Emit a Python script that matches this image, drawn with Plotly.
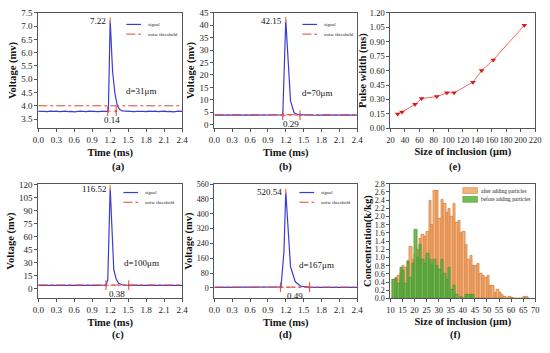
import plotly.graph_objects as go

# ---------------- data ----------------
# (a) d = 31 um
time_a = [0.00,0.05,0.10,0.15,0.20,0.25,0.30,0.35,0.40,0.45,0.50,0.55,0.60,0.65,0.70,0.75,0.80,0.85,0.90,0.95,1.00,1.05,1.10,
          1.15,1.17,1.20,1.24,1.28,1.32,1.36,1.40,
          1.45,1.50,1.55,1.60,1.65,1.70,1.75,1.80,1.85,1.90,1.95,2.00,2.05,2.10,2.15,2.20,2.25,2.30,2.35,2.40]
volt_a = [3.79,3.80,3.79,3.78,3.80,3.79,3.80,3.78,3.79,3.80,3.78,3.79,3.77,3.79,3.80,3.79,3.78,3.80,3.79,3.80,3.78,3.79,3.80,
          3.79,3.85,7.22,5.30,4.45,4.00,3.86,3.81,
          3.80,3.79,3.80,3.78,3.79,3.80,3.79,3.78,3.80,3.79,3.80,3.78,3.79,3.80,3.78,3.79,3.77,3.79,3.80,3.79]
# (b) d = 70 um
time_b = [0.00,0.10,0.20,0.30,0.40,0.50,0.60,0.70,0.80,0.90,1.00,1.10,1.15,1.20,1.28,1.34,1.40,1.45,
          1.50,1.60,1.70,1.80,1.90,2.00,2.10,2.20,2.30,2.40]
volt_b = [3.80,3.82,3.78,3.81,3.79,3.80,3.78,3.81,3.80,3.79,3.81,3.80,3.90,42.15,9.60,4.80,4.10,3.90,
          3.82,3.80,3.79,3.81,3.80,3.78,3.80,3.81,3.79,3.80]
# (c) d = 100 um
time_c = [0.00,0.10,0.20,0.30,0.40,0.50,0.60,0.70,0.80,0.90,1.00,1.10,1.13,1.16,1.20,1.26,1.30,1.34,1.40,1.45,
          1.50,1.60,1.70,1.80,1.90,2.00,2.10,2.20,2.30,2.40]
volt_c = [3.60,3.70,3.60,3.65,3.70,3.60,3.65,3.70,3.60,3.65,3.70,3.65,3.80,10.0,116.52,22.0,11.0,6.00,4.30,3.90,
          3.70,3.65,3.70,3.60,3.65,3.70,3.60,3.65,3.70,3.65]
# (d) d = 167 um
time_d = [0.00,0.10,0.20,0.30,0.40,0.50,0.60,0.70,0.80,0.90,1.00,1.10,1.12,1.17,1.20,1.28,1.36,1.45,1.55,
          1.60,1.70,1.80,1.90,2.00,2.10,2.20,2.30,2.40]
volt_d = [3.0,3.2,3.1,3.0,3.2,3.1,3.0,3.2,3.1,3.0,3.2,3.1,5.0,198.0,520.54,115.0,33.0,9.0,4.0,
          3.5,3.2,3.1,3.0,3.2,3.1,3.0,3.2,3.1]

peak_time = [1.20, 1.20, 1.20, 1.20]
peak_value = [7.22, 42.15, 116.52, 520.54]
peak_labels = ["7.22", "42.15", "116.52", "520.54"]
noise_threshold = [4.0, 4.0, 4.0, 4.0]
width_start = [1.16, 1.15, 1.13, 1.11]
width_end = [1.30, 1.44, 1.51, 1.60]
width_level = [3.80, 3.80, 3.80, 3.80]
width_labels = ["0.14", "0.29", "0.38", "0.49"]
diameter_labels = ["d=31μm", "d=70μm", "d=100μm", "d=167μm"]
diameter_text_y = [4.57, 12.6, 29.0, 124.0]
signal_legend = ["signal", "noise threshold"]

# (e) pulse width vs inclusion size
inclusion_size = [30, 36, 54, 63, 84, 98, 108, 134, 146, 162, 205]
pulse_width = [0.15, 0.17, 0.25, 0.31, 0.33, 0.37, 0.37, 0.48, 0.60, 0.71, 1.07]

# (f) size distribution (bin left edges, 1 um bins)
size_bins = [11,12,13,14,15,16,17,18,19,20,21,22,23,24,25,26,27,28,29,30,31,32,33,34,35,36,37,38,
             39,40,41,42,43,44,45,46,47,48,49,50,51,52,53,54,55,56,57,58,59,60,61,62,63,64,65,66]
conc_after = [0.45,0.50,0.55,0.62,0.80,0.75,0.92,1.25,0.95,1.10,1.20,1.45,1.55,1.50,1.62,2.38,1.80,2.62,
              2.62,1.95,2.40,2.30,2.10,2.20,2.00,2.30,1.85,1.90,1.60,1.62,1.30,0.95,1.05,0.80,0.80,0.85,
              0.60,0.55,0.50,0.55,0.30,0.30,0.15,0.20,0.15,0.10,0.05,0.00,0.05,0.02,0.00,0.00,0.00,0.00,
              0.05,0.03]
conc_before = [0.45,0.48,0.35,0.75,0.68,0.35,0.90,0.50,0.85,1.67,1.00,1.30,0.95,0.85,1.10,0.95,0.80,0.95,
               0.80,0.70,0.95,0.60,0.45,0.75,0.20,0.30,0.10,0.00,0.05,0.00,0.10,0.10,0.08,0.10,0.00,0.00,
               0.00,0.00,0.00,0.00,0.00,0.00,0.00,0.00,0.00,0.00,0.00,0.00,0.00,0.00,0.00,0.00,0.00,0.00,
               0.00,0.00]
dist_legend = ["after adding particles", "before adding particles"]

# ---------------- styling ----------------
W, H = 550, 353
SERIF = "Liberation Serif"
BLUE = "#3b3bd6"
RED = "#e0443c"
ORANGE_FILL, ORANGE_LINE = "#f4b27c", "#d5823e"
GREEN_FILL, GREEN_LINE = "rgba(104,184,72,0.92)", "#4a9236"
col_dom = [[33/W, 180/W], [213/W, 359/W], [393/W, 541/W]]
row_dom = [[1-127/H, 1-8/H], [1-302/H, 1-184/H]]

fig = go.Figure()

signal_sets = [(time_a, volt_a), (time_b, volt_b), (time_c, volt_c), (time_d, volt_d)]
axes_ids = [("x", "y"), ("x2", "y2"), ("x4", "y4"), ("x5", "y5")]

for i, ((t, v), (xa, ya)) in enumerate(zip(signal_sets, axes_ids)):
    fig.add_trace(go.Scatter(x=t, y=v, mode="lines", name=signal_legend[0], showlegend=False,
                             line=dict(color=BLUE, width=1.2), xaxis=xa, yaxis=ya))
    fig.add_trace(go.Scatter(x=[t[0], t[-1]], y=[noise_threshold[i]]*2, mode="lines",
                             name=signal_legend[1], showlegend=False,
                             line=dict(color=RED, width=1, dash="dashdot"), xaxis=xa, yaxis=ya))
    # pulse width double arrow
    fig.add_trace(go.Scatter(x=[width_start[i], width_end[i]], y=[width_level[i]]*2,
                             mode="lines+markers", showlegend=False,
                             line=dict(color=RED, width=0.8, dash="dot"),
                             marker=dict(symbol=["triangle-left", "triangle-right"], size=3, color=RED),
                             xaxis=xa, yaxis=ya, hoverinfo="skip"))
    fig.add_trace(go.Scatter(x=[width_start[i], width_end[i]], y=[width_level[i]]*2,
                             mode="markers", showlegend=False,
                             marker=dict(symbol="line-ns", size=7, line=dict(color=RED, width=1)),
                             xaxis=xa, yaxis=ya, hoverinfo="skip"))
    # peak marker
    fig.add_trace(go.Scatter(x=[peak_time[i]], y=[peak_value[i]], mode="markers", showlegend=False,
                             marker=dict(symbol="line-ns", size=4, line=dict(color="#f08a30", width=1.2)),
                             xaxis=xa, yaxis=ya, hoverinfo="skip"))

# (e)
fig.add_trace(go.Scatter(x=inclusion_size, y=pulse_width, mode="lines+markers", showlegend=False,
                         line=dict(color="#ee6a6a", width=1),
                         marker=dict(symbol="triangle-down", size=5, color="#d41a1a"),
                         xaxis="x3", yaxis="y3"))

# (f)
fig.add_trace(go.Bar(x=size_bins, y=conc_after, width=1, offset=0, name=dist_legend[0], showlegend=False,
                     marker=dict(color=ORANGE_FILL, line=dict(color=ORANGE_LINE, width=0.8)),
                     xaxis="x6", yaxis="y6"))
fig.add_trace(go.Bar(x=size_bins, y=conc_before, width=1, offset=0, name=dist_legend[1], showlegend=False,
                     marker=dict(color=GREEN_FILL, line=dict(color=GREEN_LINE, width=0.8)),
                     xaxis="x6", yaxis="y6"))

axis_base = dict(showline=True, linecolor="#555", linewidth=1, mirror=True, ticks="outside",
                 ticklen=3, tickwidth=1, tickcolor="#555", showgrid=False, zeroline=False,
                 tickangle=0, ticklabeloverflow="allow",
                 tickfont=dict(family=SERIF, size=9, color="#222"),
                 title_font=dict(family=SERIF, size=10.5, color="#111", weight="bold"))

def xax(dom, rng, dtick, fmt, title, anchor, fs=9):
    d = dict(axis_base)
    d.update(domain=dom, range=rng, dtick=dtick, tick0=rng[0], tickformat=fmt, anchor=anchor,
             tickfont=dict(family=SERIF, size=fs, color="#222"),
             title=dict(text=title, standoff=4))
    return d

def yax(dom, rng, tick0, dtick, fmt, title, anchor, fs=9, so=2):
    d = dict(axis_base)
    d.update(domain=dom, range=rng, dtick=dtick, tick0=tick0, tickformat=fmt, anchor=anchor,
             tickfont=dict(family=SERIF, size=fs, color="#222"),
             title=dict(text=title, standoff=so))
    return d

layout = dict(
    width=W, height=H, margin=dict(l=0, r=0, t=0, b=0),
    paper_bgcolor="white", plot_bgcolor="white", barmode="overlay", bargap=0, showlegend=False,
    font=dict(family=SERIF, color="#111"),
    xaxis=xax(col_dom[0], [0, 2.4], 0.3, ".1f", "Time (ms)", "y"),
    yaxis=yax(row_dom[0], [3.15, 7.5], 3.5, 0.5, ".1f", "Voltage (mv)", "x"),
    xaxis2=xax(col_dom[1], [0, 2.4], 0.3, ".1f", "Time (ms)", "y2"),
    yaxis2=yax(row_dom[0], [-1.5, 45], 0, 5, "d", "Voltage (mv)", "x2"),
    xaxis3=xax(col_dom[2], [20, 220], 20, "d", "Size of inclusion (μm)", "y3", fs=8.5),
    yaxis3=yax(row_dom[0], [0, 1.2], 0, 0.15, ".2f", "Pulse width (ms)", "x3", fs=8.5, so=1),
    xaxis4=xax(col_dom[0], [0, 2.4], 0.3, ".1f", "Time (ms)", "y4"),
    yaxis4=yax(row_dom[1], [-11.5, 121], 0, 15, "d", "Voltage (mv)", "x4"),
    xaxis5=xax(col_dom[1], [0, 2.4], 0.3, ".1f", "Time (ms)", "y5"),
    yaxis5=yax(row_dom[1], [-57, 562], 0, 80, "d", "Voltage (mv)", "x5", fs=8),
    xaxis6=xax(col_dom[2], [10, 70], 5, "d", "Size of inclusion (μm)", "y6", fs=8.5),
    yaxis6=yax(row_dom[1], [0, 2.8], 0, 0.2, ".1f", "Concentration(k/kg)", "x6", fs=8, so=1),
)

annotations = []
shapes = []
for i, (xa, ya) in enumerate(axes_ids):
    annotations.append(dict(x=peak_time[i], y=peak_value[i], xref=xa, yref=ya, text=peak_labels[i],
                            showarrow=False, xanchor="right", yanchor="middle", xshift=-2, yshift=-1,
                            font=dict(family=SERIF, size=9, color="#111")))
    annotations.append(dict(x=(width_start[i]+width_end[i])/2, y=width_level[i], xref=xa, yref=ya,
                            text=width_labels[i], showarrow=False, yanchor="top", yshift=-2,
                            font=dict(family=SERIF, size=9, color="#111")))
    annotations.append(dict(x=1.72, y=diameter_text_y[i], xref=xa, yref=ya, text=diameter_labels[i],
                            showarrow=False, font=dict(family=SERIF, size=9, color="#111")))

# hand-built legends (compact, like the reference)
leg_font = dict(family=SERIF, size=4.8, color="#222")
leg_origin = [(123, 20), (303, 20), (120, 193), (300, 193)]
for (lx, ly) in leg_origin:
    for j, (col, dash) in enumerate([(BLUE, "solid"), (RED, "dashdot")]):
        yy = 1 - (ly + 10*j)/H
        shapes.append(dict(type="line", xref="paper", yref="paper", x0=lx/W, x1=(lx+15)/W, y0=yy, y1=yy,
                           line=dict(color=col, width=1.2 if j == 0 else 1, dash=dash)))
        annotations.append(dict(x=(lx+20)/W, y=yy, xref="paper", yref="paper", text=signal_legend[j],
                                showarrow=False, xanchor="left", yanchor="middle", font=leg_font))
for j, (fc, lc) in enumerate([(ORANGE_FILL, ORANGE_LINE), (GREEN_FILL, GREEN_LINE)]):
    yc = 191 + 9*j
    shapes.append(dict(type="rect", xref="paper", yref="paper", x0=467/W, x1=482/W,
                       y0=1-(yc+3)/H, y1=1-(yc-3)/H, fillcolor=fc, line=dict(color=lc, width=0.6)))
    annotations.append(dict(x=484/W, y=1-yc/H, xref="paper", yref="paper", text=dist_legend[j],
                            showarrow=False, xanchor="left", yanchor="middle",
                            font=dict(family=SERIF, size=5.4, color="#222")))

panel_letters = ["(a)", "(b)", "(e)", "(c)", "(d)", "(f)"]
for k, letter in enumerate(panel_letters):
    c = col_dom[k % 3]
    yy = 1-167/H if k < 3 else 1-348/H
    annotations.append(dict(x=(c[0]+c[1])/2, y=yy, xref="paper", yref="paper", text=letter,
                            showarrow=False, font=dict(family=SERIF, size=10.5, color="#111", weight="bold")))
layout["annotations"] = annotations
layout["shapes"] = shapes

fig.update_layout(**layout)
fig.write_html("out.html", config={"displayModeBar": False},
               post_script="document.body.style.margin='0';document.body.style.overflow='hidden';")
